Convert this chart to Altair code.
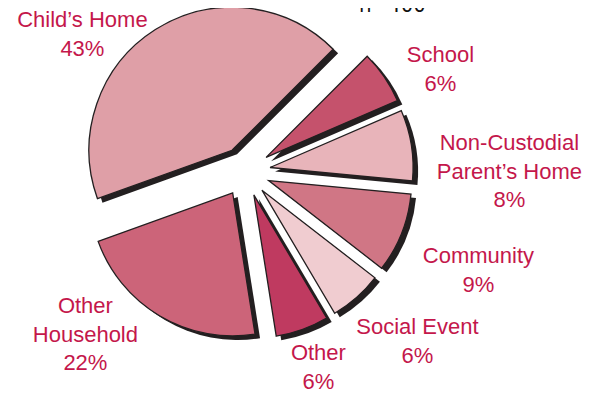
import altair as alt
import pandas as pd

# ---- data ----
categories = ["Child’s Home", "School", "Non-Custodial\nParent’s Home", "Community",
              "Social Event", "Other", "Other\nHousehold"]
percent = [43, 6, 8, 9, 6, 6, 22]
colors = ["#df9fa7", "#c5526c", "#e8b4ba", "#d07685", "#f0ccd0", "#bf3a60", "#cc6479"]
title_text = "n=400"

# ---- layout (pixels relative to the pie centre; label y = first text line) ----
label_dx = [-163, 195, 264, 233, 172, 73, -160]
label_dy = [-151, -116, -28, 85, 156, 182, 135]
W, H = 584, 384
CX, CY = 237.4, 163.4
RADIUS = 143
EXPLODE = 25
START_DEG = 250.2
LABEL_COLOR = "#c4174b"
EDGE = "#231f20"

df = pd.DataFrame({
    "cat": categories,
    "pct": percent,
    "order": list(range(len(categories))),
    "lx": label_dx,
    "ly": label_dy,
})

xs = alt.Scale(domain=[-CX, W - CX], nice=False, zero=False)
ys = alt.Scale(domain=[-CY, H - CY], nice=False, zero=False, reverse=True)

base = alt.Chart(df).transform_window(
    cum="sum(pct)", sort=[alt.SortField("order")], frame=[None, 0]
).transform_calculate(
    t0=f"{START_DEG}*PI/180 + 2*PI*(datum.cum - datum.pct)/100",
    t1=f"{START_DEG}*PI/180 + 2*PI*datum.cum/100",
).transform_calculate(
    mid="(datum.t0 + datum.t1)/2",
).transform_calculate(
    ex=f"{EXPLODE}*sin(datum.mid)",
    ey=f"-{EXPLODE}*cos(datum.mid)",
    label="datum.cat + '\\n' + datum.pct + '%'",
)

enc = dict(
    x=alt.X("ex:Q", scale=xs, axis=None),
    y=alt.Y("ey:Q", scale=ys, axis=None),
    theta=alt.Theta("t0:Q", scale=None, stack=None),
    theta2="t1:Q",
)

shadow = base.mark_arc(radius=RADIUS, xOffset=5, yOffset=4, fill=EDGE).encode(**enc)

slices = base.mark_arc(radius=RADIUS, stroke=EDGE, strokeWidth=1.3, strokeJoin="miter").encode(
    color=alt.Color("cat:N", scale=alt.Scale(domain=categories, range=colors), legend=None),
    **enc,
)

labels = base.mark_text(
    font="Liberation Sans", fontSize=22, color=LABEL_COLOR, align="center",
    baseline="middle", lineBreak="\n", lineHeight=28.5,
).encode(
    x=alt.X("lx:Q", scale=xs, axis=None),
    y=alt.Y("ly:Q", scale=ys, axis=None),
    text="label:N",
)

title = alt.Chart(pd.DataFrame({"t": [title_text]})).mark_text(
    font="DejaVu Sans Condensed, Roboto", fontSize=22, color="#111111", align="center",
    baseline="alphabetic",
).encode(
    x=alt.value(CX + 147),
    y=alt.value(4),
    text="t:N",
)

chart = alt.layer(shadow, slices, labels, title).properties(
    width=W, height=H, padding=0,
    autosize=alt.AutoSizeParams(type="none"),
).configure_view(stroke=None)

chart.save("out.html", embed_options={"renderer": "svg", "actions": False})
